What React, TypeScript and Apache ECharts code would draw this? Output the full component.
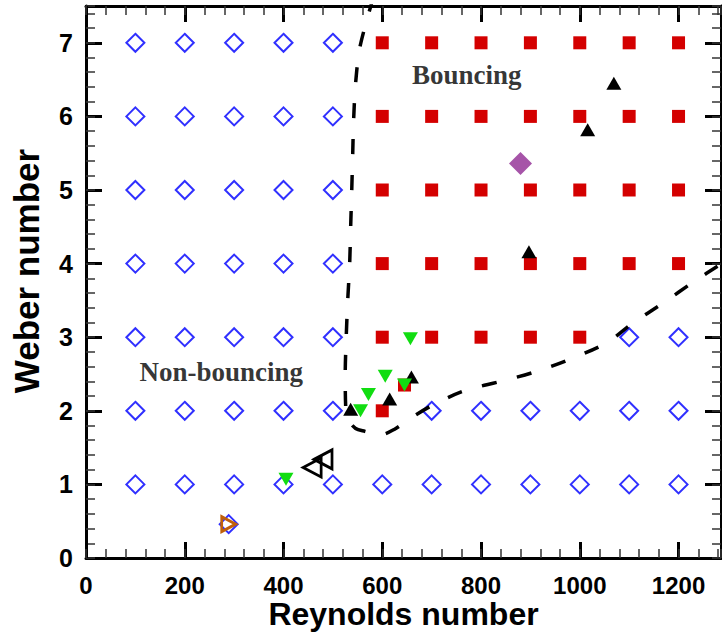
import React, { useEffect, useRef } from "react";
import * as echarts from "echarts";

// Re, We pairs
const nonBouncing: number[][] = [
  [100, 1], [200, 1], [300, 1], [400, 1], [500, 1], [600, 1], [700, 1], [800, 1], [900, 1], [1000, 1], [1100, 1], [1200, 1],
  [100, 2], [200, 2], [300, 2], [400, 2], [500, 2], [700, 2], [800, 2], [900, 2], [1000, 2], [1100, 2], [1200, 2],
  [100, 3], [200, 3], [300, 3], [400, 3], [500, 3], [1100, 3], [1200, 3],
  [100, 4], [200, 4], [300, 4], [400, 4], [500, 4],
  [100, 5], [200, 5], [300, 5], [400, 5], [500, 5],
  [100, 6], [200, 6], [300, 6], [400, 6], [500, 6],
  [100, 7], [200, 7], [300, 7], [400, 7], [500, 7],
  [289, 0.46],
];

const bouncing: number[][] = [
  [600, 2], [645, 2.35],
  [600, 3], [700, 3], [800, 3], [900, 3], [1000, 3],
  [600, 4], [700, 4], [800, 4], [900, 4], [1000, 4], [1100, 4], [1200, 4],
  [600, 5], [700, 5], [800, 5], [900, 5], [1000, 5], [1100, 5], [1200, 5],
  [600, 6], [700, 6], [800, 6], [900, 6], [1000, 6], [1100, 6], [1200, 6],
  [600, 7], [700, 7], [800, 7], [900, 7], [1000, 7], [1100, 7], [1200, 7],
];

const blackUp: number[][] = [
  [536, 2.02], [615, 2.16], [659, 2.46], [897, 4.16], [1016, 5.82], [1069, 6.45],
];

const greenDown: number[][] = [
  [405, 1.07], [556, 2.0], [572, 2.22], [606, 2.47], [645, 2.35], [657, 2.98],
];

const openLeft: number[][] = [
  [458, 1.23], [480, 1.34],
];

const orangeRight: number[][] = [[289, 0.46]];

const purpleDiamond: number[][] = [[880, 5.36]];

const boundary: number[][] = [
  [582, 7.62], [555, 6.95], [546, 6.45], [542, 5.95], [540, 5.45], [538, 4.95], [536, 4.5],
  [534, 4.0], [530, 3.5], [527, 3.0], [525, 2.5], [526, 2.05], [531, 1.88], [546, 1.76],
  [565, 1.72], [595, 1.67], [625, 1.75], [655, 1.89], [700, 2.07], [765, 2.27], [840, 2.4],
  [910, 2.53], [980, 2.7], [1056, 2.93], [1105, 3.18], [1170, 3.47], [1230, 3.75], [1292, 4.02],
];

const regionLabels: (number | string)[][] = [
  [771, 6.56, "Bouncing"],
  [274, 2.53, "Non-bouncing"],
];

const xTitle = "Reynolds number";
const yTitle = "Weber number";

const X_MIN = 0;
const X_MAX = 1286;
const Y_MIN = 0;
const Y_MAX = 7.5;

export default function App() {
  const ref = useRef<HTMLDivElement>(null);
  useEffect(() => {
    const chart = echarts.init(ref.current!, null, { renderer: "svg" });
    const labelFont = {
      fontFamily: "Liberation Sans, Arial, sans-serif",
      fontWeight: "bold" as const,
      fontSize: 25,
      color: "#000",
    };
    const majorTick = { show: true, inside: true, length: 16, lineStyle: { color: "#000", width: 3 } };
    const minorTick = { show: true, inside: true, length: 9, lineStyle: { color: "#333", width: 1.5 } };
    const line = { show: true, onZero: false, lineStyle: { color: "#000", width: 3 } };
    const noLine = { show: false, onZero: false };

    const xBase = { type: "value" as const, min: X_MIN, max: X_MAX, splitLine: { show: false } };
    const yBase = { type: "value" as const, min: Y_MIN, max: Y_MAX, splitLine: { show: false } };
    const plainNum = (v: number) => String(v);

    const option: any = {
      animation: false,
      backgroundColor: "#fff",
      grid: { left: 86, right: 1, top: 6, bottom: 77, containLabel: false, outerBoundsMode: "none" },
      xAxis: [
        {
          ...xBase, position: "bottom", interval: 200, axisLine: line, axisTick: majorTick,
          axisLabel: { ...labelFont, fontSize: 24, lineHeight: 20, margin: 17, showMaxLabel: false, formatter: plainNum },
          name: xTitle, nameLocation: "middle", nameGap: 43, nameMoveOverlap: false,
          nameTextStyle: { fontFamily: "Liberation Sans, Arial, sans-serif", fontWeight: "bold", fontSize: 32, lineHeight: 26, color: "#000" },
        },
        { ...xBase, position: "bottom", interval: 40, axisLine: noLine, axisTick: minorTick, axisLabel: { show: false } },
        { ...xBase, position: "top", interval: 200, axisLine: line, axisTick: majorTick, axisLabel: { show: false } },
        { ...xBase, position: "top", interval: 40, axisLine: noLine, axisTick: minorTick, axisLabel: { show: false } },
      ],
      yAxis: [
        {
          ...yBase, position: "left", interval: 1, axisLine: line, axisTick: majorTick,
          axisLabel: { ...labelFont, margin: 13, showMaxLabel: false, formatter: plainNum },
          name: yTitle, nameLocation: "middle", nameGap: 42, nameRotate: 90, nameMoveOverlap: false,
          nameTextStyle: {
            fontFamily: "Liberation Sans, Arial, sans-serif", fontWeight: "bold", fontSize: 35, color: "#000",
            padding: [0, 0, 0, 22],
          },
        },
        { ...yBase, position: "left", interval: 0.2, axisLine: noLine, axisTick: minorTick, axisLabel: { show: false } },
        { ...yBase, position: "right", interval: 1, axisLine: line, axisTick: majorTick, axisLabel: { show: false } },
        { ...yBase, position: "right", interval: 0.2, axisLine: noLine, axisTick: minorTick, axisLabel: { show: false } },
      ],
      series: [
        {
          name: "Non-bouncing", type: "scatter", data: nonBouncing, symbol: "diamond", symbolSize: 18,
          itemStyle: { color: "rgba(255,255,255,0)", borderColor: "#3030ff", borderWidth: 2, opacity: 1 },
        },
        {
          name: "Bouncing", type: "scatter", data: bouncing, symbol: "rect", symbolSize: 13,
          itemStyle: { color: "#d40000", opacity: 1 },
        },
        {
          name: "Black up", type: "scatter", data: blackUp, symbol: "triangle", symbolSize: [15, 13],
          itemStyle: { color: "#000", opacity: 1 },
        },
        {
          name: "Green down", type: "scatter", data: greenDown, symbol: "triangle", symbolRotate: 180, symbolSize: [15, 13],
          itemStyle: { color: "#11dd11", opacity: 1 },
        },
        {
          name: "Open left", type: "scatter", data: openLeft, symbol: "triangle", symbolRotate: 90, symbolSize: [19, 18],
          itemStyle: { color: "rgba(255,255,255,0)", borderColor: "#000", borderWidth: 2.8, opacity: 1 },
        },
        {
          name: "Orange right", type: "scatter", data: orangeRight, symbol: "triangle", symbolRotate: -90, symbolSize: [15, 14],
          itemStyle: { color: "rgba(255,255,255,0)", borderColor: "#c0600a", borderWidth: 2.8, opacity: 1 },
        },
        {
          name: "Purple", type: "scatter", data: purpleDiamond, symbol: "diamond", symbolSize: 23,
          itemStyle: { color: "#a654a8", opacity: 1 },
        },
        {
          name: "Boundary", type: "line", data: boundary, smooth: 0.3, showSymbol: false, clip: true,
          lineStyle: { color: "#000", width: 3.5, type: [15, 21] },
        },
        {
          name: "Labels", type: "scatter", data: regionLabels, symbolSize: 0, silent: true,
          label: {
            show: true, position: "inside",
            formatter: (p: any) => p.value[2],
            fontFamily: "Liberation Serif, Times New Roman, serif", fontWeight: "bold", fontSize: 27, color: "#000",
          },
        },
      ],
    };
    chart.setOption(option);
    return () => chart.dispose();
  }, []);
  return <div ref={ref} style={{ position: "fixed", left: 0, top: 0, width: 722, height: 635 }} />;
}
